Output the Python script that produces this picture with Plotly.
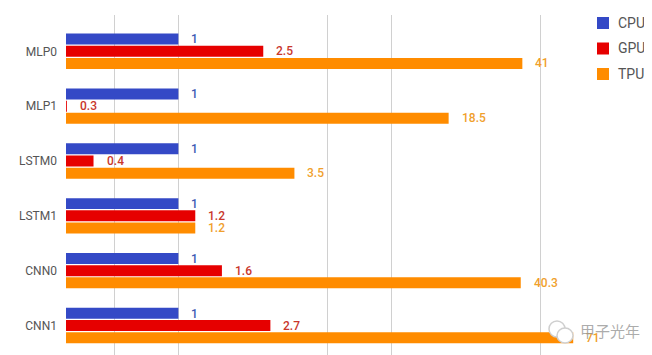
import math
import plotly.graph_objects as go

categories = ["MLP0", "MLP1", "LSTM0", "LSTM1", "CNN0", "CNN1"]
cpu = [1, 1, 1, 1, 1, 1]
gpu = [2.5, 0.3, 0.4, 1.2, 1.6, 2.7]
tpu = [41, 18.5, 3.5, 1.2, 40.3, 71]
grid_vals = [0.5, 1, 5, 10, 50]
legend_names = ["CPU", "GPU", "TPU"]

bar_colors = ["#3449c6", "#e60000", "#ff8c00"]
text_colors = ["#3d5bb3", "#c9372c", "#f0a02c"]
y_shifts = [12, 0, -12]

# page has an 8px body margin; work in page pixels and shift
OFF = 8
W, H = 652 - OFF, 355 - OFF
L, R, T, B = 66 - OFF, 62, 15 - OFF, 0
PW, PH = W - L - R, H - T - B


def px(x):
    return (x - OFF - L) / PW


def py(y):
    return (H - B - (y - OFF)) / PH


fig = go.Figure()
annotations = []
shapes = []
for name, vals, col, tcol, ysh in zip(legend_names, [cpu, gpu, tpu], bar_colors, text_colors, y_shifts):
    fig.add_trace(go.Bar(
        y=categories, x=vals, name=name, orientation="h",
        marker=dict(color=col, line=dict(width=0)),
        hoverinfo="skip", showlegend=False,
    ))
    for c, v in zip(categories, vals):
        annotations.append(dict(
            x=math.log10(v), y=c, xref="x", yref="y",
            text=("%g" % v), showarrow=False, xanchor="left", yanchor="middle",
            xshift=11, yshift=ysh,
            font=dict(family="Roboto", size=12, color=tcol, weight=500),
        ))

# legend drawn at fixed pixel spots
leg_rows = [23, 48.5, 74]
for name, col, yc in zip(legend_names, bar_colors, leg_rows):
    shapes.append(dict(type="rect", xref="paper", yref="paper",
                       x0=px(597), x1=px(609), y0=py(yc + 6), y1=py(yc - 6),
                       fillcolor=col, line=dict(width=0)))
    annotations.append(dict(x=px(616), y=py(yc), xref="paper", yref="paper",
                            text=name, showarrow=False, xanchor="left", yanchor="middle",
                            font=dict(family="Roboto", size=14, color="#555555")))

# watermark
shapes.append(dict(type="circle", xref="paper", yref="paper",
                   x0=px(549), x1=px(565), y0=py(337), y1=py(321),
                   fillcolor="white", line=dict(color="#cfcfcf", width=1.5)))
shapes.append(dict(type="circle", xref="paper", yref="paper",
                   x0=px(557), x1=px(573), y0=py(343), y1=py(328),
                   fillcolor="white", line=dict(color="#cfcfcf", width=1.5)))
annotations.append(dict(
    x=px(578), y=py(330), xref="paper", yref="paper", text="甲子光年",
    showarrow=False, xanchor="left", yanchor="middle",
    font=dict(family="Noto Sans CJK SC", size=15, color="rgba(150,150,150,0.8)"),
))

fig.update_layout(
    width=W, height=H,
    margin=dict(l=L, r=R, t=T, b=B, autoexpand=False),
    paper_bgcolor="white", plot_bgcolor="white",
    barmode="group", bargap=0.333, bargroupgap=0.1,
    font=dict(family="Roboto", size=12, color="#555555"),
    xaxis=dict(
        type="log", range=[-0.527, 1.93],
        tickvals=grid_vals, showticklabels=False,
        showgrid=True, gridcolor="#d0d0d0", gridwidth=1,
        zeroline=False, showline=False, ticks="", automargin=False,
    ),
    yaxis=dict(
        range=[5.538, -0.662], showgrid=False, ticks="", showline=False,
        tickfont=dict(family="Roboto", size=12, color="#555555"),
        ticklabelstandoff=8, automargin=False,
    ),
    showlegend=False,
    annotations=annotations,
    shapes=shapes,
)

fig.write_html("out.html")
